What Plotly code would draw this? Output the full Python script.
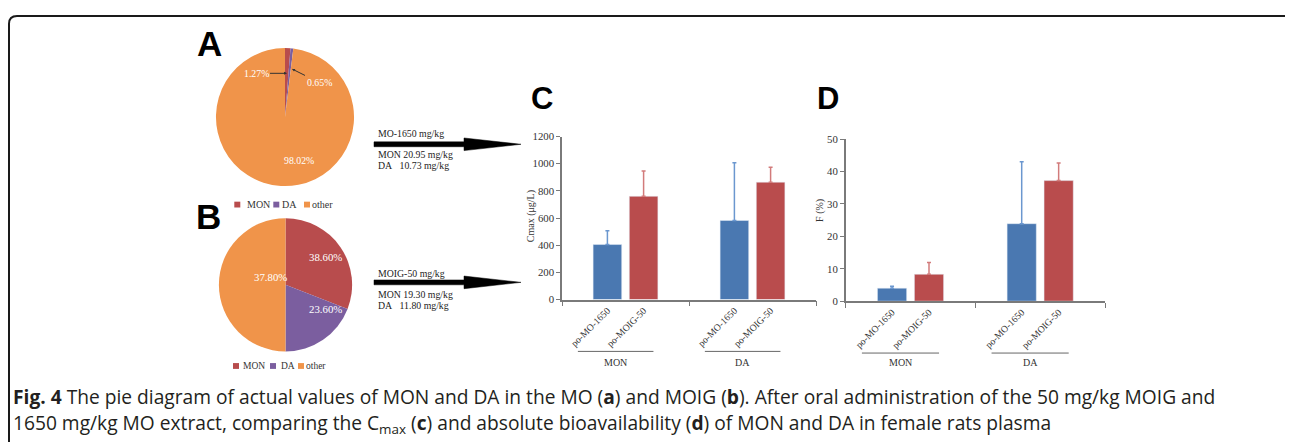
import plotly.graph_objects as go

# page has an 8px body margin; figure is sized to fit the 1293x442 window
OX, OY = 8, 8
W, H = 1293 - OX, 442 - OY


def fx(x):
    return (x - OX) / W


def fy(y):
    return 1 - (y - OY) / H


# ---------------- data ----------------
pie_labels = ["MON", "DA", "other"]
pie_colors = ["#B84C4D", "#7B5E9F", "#F0944A"]
pie_a_values = [1.27, 0.65, 98.02]
pie_a_text = ["1.27%", "0.65%", "98.02%"]
pie_b_values = [30.9, 19.1, 50.0]          # slice shares as drawn
pie_b_text = ["38.60%", "23.60%", "37.80%"]

groups = ["MON", "DA"]
series = ["po-MO-1650", "po-MOIG-50"]
cmax_mo = [405, 582]
cmax_mo_err = [101, 425]
cmax_moig = [760, 864]
cmax_moig_err = [187, 109]
f_mo = [4.0, 23.9]
f_mo_err = [0.6, 19.1]
f_moig = [8.3, 37.2]
f_moig_err = [3.6, 5.4]
cmax_ticks = [0, 200, 400, 600, 800, 1000, 1200]
f_ticks = [0, 10, 20, 30, 40, 50]

dose_a = ["MO-1650 mg/kg", "MON 20.95 mg/kg", "DA\u00a0\u00a0\u00a010.73 mg/kg"]
dose_b = ["MOIG-50 mg/kg", "MON 19.30 mg/kg", "DA\u00a0\u00a0\u00a011.80 mg/kg"]

caption_1 = ("<b>Fig. 4</b> The pie diagram of actual values of MON and DA in the MO (<b>a</b>) "
             "and MOIG (<b>b</b>). After oral administration of the 50 mg/kg MOIG and")
caption_2 = ("1650 mg/kg MO extract, comparing the C<sub>max</sub> (<b>c</b>) and absolute "
             "bioavailability (<b>d</b>) of MON and DA in female rats plasma")

# ---------------- styles ----------------
SERIF = "Liberation Serif"
SANS = "Liberation Sans"
BLUE, RED = "#4A78B1", "#B94C4D"
BLUE_E, RED_E = "#6B97CF", "#D27B7B"
AX = "#7a7a7a"
TXT = "#333333"
BARGAP, BARGROUPGAP = 0.43, 0.21
slot_off = (1 - BARGAP) / 4

xpos = list(range(len(groups)))

fig = go.Figure()

# pies
fig.add_trace(go.Pie(labels=pie_labels, values=pie_a_values, sort=False, direction="clockwise",
                     rotation=0, marker=dict(colors=pie_colors, line=dict(width=0)),
                     textinfo="none", hoverinfo="label+percent",
                     domain=dict(x=[fx(214), fx(356)], y=[fy(185), fy(43)])))
fig.add_trace(go.Pie(labels=pie_labels, values=pie_b_values, sort=False, direction="clockwise",
                     rotation=0, marker=dict(colors=pie_colors, line=dict(width=0)),
                     textinfo="none", hoverinfo="label",
                     domain=dict(x=[fx(217), fx(354)], y=[fy(355), fy(218)])))


def err(arr, color):
    return dict(type="data", array=arr, arrayminus=[0] * len(arr), symmetric=False,
                color=color, thickness=1.5, width=2)


# bars C
fig.add_trace(go.Bar(x=xpos, y=cmax_mo, name=series[0], marker_color=BLUE,
                     error_y=err(cmax_mo_err, BLUE_E), xaxis="x", yaxis="y"))
fig.add_trace(go.Bar(x=xpos, y=cmax_moig, name=series[1], marker_color=RED,
                     error_y=err(cmax_moig_err, RED_E), xaxis="x", yaxis="y"))
# bars D
fig.add_trace(go.Bar(x=xpos, y=f_mo, name=series[0], marker_color=BLUE,
                     error_y=err(f_mo_err, BLUE_E), xaxis="x2", yaxis="y2"))
fig.add_trace(go.Bar(x=xpos, y=f_moig, name=series[1], marker_color=RED,
                     error_y=err(f_moig_err, RED_E), xaxis="x2", yaxis="y2"))

label_vals = [i + s * slot_off for i in xpos for s in (-1, 1)]
label_text = [series[j] for _ in xpos for j in range(len(series))]
minor_vals = [i - 0.5 for i in xpos] + [xpos[-1] + 0.5]


def xax(domain, anchor):
    return dict(domain=domain, anchor=anchor, range=[-0.5, len(groups) - 0.5],
                tickmode="array", tickvals=label_vals, ticktext=label_text,
                tickangle=-45, ticks="", showline=True, linecolor=AX, linewidth=1.5,
                showgrid=False, zeroline=False,
                tickfont=dict(family=SERIF, size=9.6, color=TXT),
                minor=dict(tickvals=minor_vals, ticks="outside", ticklen=5,
                           tickcolor=AX, tickwidth=1.2, showgrid=False))


def yax(domain, anchor, rng, ticks):
    return dict(domain=domain, anchor=anchor, range=rng, tickmode="array", tickvals=ticks,
                ticks="outside", ticklen=4, tickcolor=AX, tickwidth=1.2,
                showline=True, linecolor=AX, linewidth=1.5, showgrid=False, zeroline=False,
                tickfont=dict(family=SERIF, size=10.8, color=TXT))


shapes = []
annotations = []

# border (rounded)
x0, y0, x1, yb, r = 9, 10, 1291, 480, 8
border = (f"M {fx(x0)},{fy(yb)} L {fx(x0)},{fy(y0 + r)} Q {fx(x0)},{fy(y0)} {fx(x0 + r)},{fy(y0)} "
          f"L {fx(x1 - r)},{fy(y0)} Q {fx(x1)},{fy(y0)} {fx(x1)},{fy(y0 + r)} L {fx(x1)},{fy(yb)}")
shapes.append(dict(type="path", xref="paper", yref="paper", path=border,
                   line=dict(color="#1a1a1a", width=2)))


# dose arrows
def arrow_path(xs, xe, yc):
    pts = [(xs, yc - 2.5), (xe - 57, yc - 2.5), (xe - 57, yc - 6.5), (xe, yc),
           (xe - 57, yc + 6.5), (xe - 57, yc + 2.5), (xs, yc + 2.5)]
    p = "M " + " L ".join(f"{fx(a)},{fy(b)}" for a, b in pts) + " Z"
    return dict(type="path", xref="paper", yref="paper", path=p,
                fillcolor="#000000", line=dict(color="#000000", width=0.5))


shapes.append(arrow_path(374, 521, 142))
shapes.append(arrow_path(374, 521, 284))

for texts, ys in ((dose_a, (131, 153, 164)), (dose_b, (275, 296, 307.5))):
    for t, yy in zip(texts, ys):
        annotations.append(dict(text=t, x=fx(377), y=fy(yy), xref="paper", yref="paper",
                                xanchor="left", yanchor="middle", showarrow=False, borderpad=0,
                                font=dict(family=SERIF, size=9.8, color="#222")))

# panel letters
for t, cx, cy, sz in (("A", 209.5, 38, 35), ("B", 208.5, 216.5, 35),
                      ("C", 541.5, 94.5, 31), ("D", 828.5, 94.5, 31)):
    annotations.append(dict(text=f"<b>{t}</b>", x=fx(cx), y=fy(cy), xref="paper", yref="paper",
                            xanchor="center", yanchor="middle", showarrow=False,
                            font=dict(family=SANS, size=sz, color="#000")))

# pie labels
WFA = dict(family=SERIF, size=9.8, color="#ffffff")
WFB = dict(family=SERIF, size=10.8, color="#ffffff")
annotations.append(dict(text=pie_a_text[0], x=fx(287), y=fy(69), xref="paper", yref="paper",
                        ax=-31, ay=0, showarrow=True, arrowhead=2, arrowsize=0.6, arrowwidth=1,
                        arrowcolor="#333", font=WFA))
annotations.append(dict(text=pie_a_text[1], x=fx(292), y=fy(64.5), xref="paper", yref="paper",
                        ax=27, ay=13.5, showarrow=True, arrowhead=2, arrowsize=0.6, arrowwidth=1,
                        arrowcolor="#333", font=WFA))
annotations.append(dict(text=pie_a_text[2], x=fx(282), y=fy(151), xref="paper", yref="paper",
                        showarrow=False, font=WFA))
for t, cx, cy in zip(pie_b_text, (306.5, 306.5, 252), (257.5, 319.5, 278.5)):
    annotations.append(dict(text=t, x=fx(cx), y=fy(cy), xref="paper", yref="paper",
                            showarrow=False, font=WFB))

# manual legends
for (sq, tx, yc, fs) in (((234.3, 273.3, 304), (245.5, 281, 310.5), 204, 10),
                         ((233, 270, 298), (242, 279.5, 305), 370, 9.5)):
    for k in range(len(pie_labels)):
        shapes.append(dict(type="rect", xref="paper", yref="paper",
                           x0=fx(sq[k]), x1=fx(sq[k] + 6), y0=fy(yc + 3), y1=fy(yc - 3),
                           fillcolor=pie_colors[k], line=dict(width=0)))
        annotations.append(dict(text=pie_labels[k], x=fx(tx[k]), y=fy(yc), xref="paper",
                                yref="paper", xanchor="left", yanchor="middle", showarrow=False,
                                borderpad=0, font=dict(family=SERIF, size=fs, color=TXT)))

# group brackets and labels under bar charts
for xr, yline in (("x", 355), ("x2", 356.7)):
    for i, g in zip(xpos, groups):
        shapes.append(dict(type="line", xref=xr, yref="paper", x0=i - 0.375, x1=i + 0.22,
                           y0=fy(yline), y1=fy(yline), line=dict(color="#666", width=1)))
        annotations.append(dict(text=g, x=i - 0.078, y=fy(366), xref=xr, yref="paper",
                                showarrow=False, yanchor="middle",
                                font=dict(family=SERIF, size=10, color=TXT)))

# y titles
annotations.append(dict(text="Cmax (μg/L)", x=fx(531), y=fy(216), xref="paper", yref="paper",
                        textangle=-90, showarrow=False, borderpad=0,
                        font=dict(family=SERIF, size=10, color=TXT)))
annotations.append(dict(text="F (%)", x=fx(820.5), y=fy(210), xref="paper", yref="paper",
                        textangle=-90, showarrow=False, borderpad=0,
                        font=dict(family=SERIF, size=10, color=TXT)))

# caption
CF = dict(family="Open Sans", size=19.2, color="#231f20")
annotations.append(dict(text=caption_1, x=fx(12), y=fy(401.5), xref="paper", yref="paper",
                        xanchor="left", yanchor="middle", showarrow=False, borderpad=0, font=CF))
annotations.append(dict(text=caption_2, x=fx(12), y=fy(429), xref="paper", yref="paper",
                        xanchor="left", yanchor="middle", showarrow=False, borderpad=0, font=CF))

fig.update_layout(
    width=W, height=H, margin=dict(l=0, r=0, t=0, b=0),
    paper_bgcolor="white", plot_bgcolor="white", showlegend=False,
    barmode="group", bargap=BARGAP, bargroupgap=BARGROUPGAP,
    xaxis=xax([fx(562), fx(816)], "y"),
    yaxis=yax([fy(301.7), fy(134)], "x", [0, 1200], cmax_ticks),
    xaxis2=xax([fx(845.7), fx(1105)], "y2"),
    yaxis2=yax([fy(303.3), fy(136.7)], "x2", [0, 50], f_ticks),
    shapes=shapes, annotations=annotations,
)

fig.write_html("out.html")
